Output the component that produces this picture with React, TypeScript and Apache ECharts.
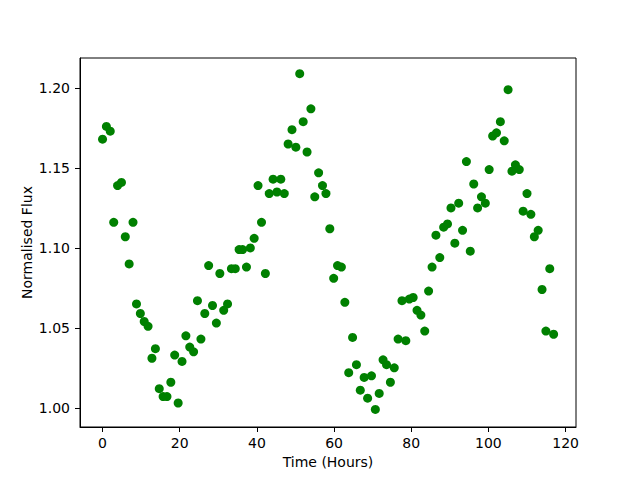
import React, { useEffect, useRef } from "react";
import * as echarts from "echarts";

const timeHours = [
  0.0, 1.0, 2.0, 2.9, 3.9, 4.9, 5.9, 6.9, 7.9, 8.8,
  9.8, 10.8, 11.8, 12.8, 13.7, 14.7, 15.7, 16.7, 17.7, 18.7,
  19.6, 20.6, 21.6, 22.6, 23.6, 24.6, 25.5, 26.5, 27.5, 28.5,
  29.5, 30.4, 31.4, 32.4, 33.4, 34.4, 35.4, 36.3, 37.3, 38.3,
  39.3, 40.3, 41.2, 42.2, 43.2, 44.2, 45.2, 46.2, 47.1, 48.1,
  49.1, 50.1, 51.1, 52.0, 53.0, 54.0, 55.0, 56.0, 57.0, 57.9,
  58.9, 59.9, 60.9, 61.9, 62.8, 63.8, 64.8, 65.8, 66.8, 67.8,
  68.7, 69.7, 70.7, 71.7, 72.7, 73.6, 74.6, 75.6, 76.6, 77.6,
  78.6, 79.5, 80.5, 81.5, 82.5, 83.5, 84.5, 85.4, 86.4, 87.4,
  88.4, 89.4, 90.3, 91.3, 92.3, 93.3, 94.3, 95.3, 96.2, 97.2,
  98.2, 99.2, 100.2, 101.1, 102.1, 103.1, 104.1, 105.1, 106.1, 107.0,
  108.0, 109.0, 110.0, 111.0, 111.9, 112.9, 113.9, 114.9, 115.9, 116.9,
];

const normalisedFlux = [
  1.168, 1.176, 1.173, 1.116, 1.139, 1.141, 1.107, 1.090, 1.116, 1.065,
  1.059, 1.054, 1.051, 1.031, 1.037, 1.012, 1.007, 1.007, 1.016, 1.033,
  1.003, 1.029, 1.045, 1.038, 1.035, 1.067, 1.043, 1.059, 1.089, 1.064,
  1.053, 1.084, 1.061, 1.065, 1.087, 1.087, 1.099, 1.099, 1.088, 1.100,
  1.106, 1.139, 1.116, 1.084, 1.134, 1.143, 1.135, 1.143, 1.134, 1.165,
  1.174, 1.163, 1.209, 1.179, 1.160, 1.187, 1.132, 1.147, 1.139, 1.134,
  1.112, 1.081, 1.089, 1.088, 1.066, 1.022, 1.044, 1.027, 1.011, 1.019,
  1.006, 1.020, 0.999, 1.009, 1.030, 1.027, 1.016, 1.025, 1.043, 1.067,
  1.042, 1.068, 1.069, 1.061, 1.058, 1.048, 1.073, 1.088, 1.108, 1.094,
  1.113, 1.115, 1.125, 1.103, 1.128, 1.111, 1.154, 1.098, 1.140, 1.125,
  1.132, 1.128, 1.149, 1.170, 1.172, 1.179, 1.167, 1.199, 1.148, 1.152,
  1.149, 1.123, 1.134, 1.121, 1.107, 1.111, 1.074, 1.048, 1.087, 1.046,
];

const xTicks = [0, 20, 40, 60, 80, 100, 120];
const yTicks = [1.0, 1.05, 1.1, 1.15, 1.2];

const FONT = "DejaVu Sans";

export default function App() {
  const ref = useRef<HTMLDivElement>(null);
  useEffect(() => {
    if (!ref.current) return;
    const chart = echarts.init(ref.current, null, { renderer: "svg" });
    const points = timeHours.map((t, i) => [t, normalisedFlux[i]]);
    chart.setOption({
      animation: false,
      backgroundColor: "#ffffff",
      grid: {
        left: 80,
        right: 64,
        top: 58,
        bottom: 53,
        show: true,
        borderColor: "#000000",
        borderWidth: 1,
        backgroundColor: "#ffffff",
      },
      xAxis: {
        type: "value",
        min: -5.84,
        max: 122.7,
        name: "Time (Hours)",
        nameLocation: "middle",
        nameGap: 28,
        nameMoveOverlap: false,
        nameTextStyle: { fontFamily: FONT, fontSize: 14, color: "#000" },
        splitLine: { show: false },
        axisLine: { show: true, onZero: false, lineStyle: { color: "#000", width: 1 } },
        axisTick: {
          show: true,
          inside: false,
          length: 5,
          lineStyle: { color: "#000" },
          customValues: xTicks,
        },
        axisLabel: {
          margin: 9,
          fontFamily: FONT,
          fontSize: 14,
          color: "#000",
          customValues: xTicks,
          formatter: (v: number) => String(v),
        },
      },
      yAxis: {
        type: "value",
        min: 0.988,
        max: 1.2188,
        name: "Normalised Flux",
        nameLocation: "middle",
        nameGap: 46,
        nameMoveOverlap: false,
        nameRotate: 90,
        nameTextStyle: { fontFamily: FONT, fontSize: 14, color: "#000" },
        splitLine: { show: false },
        axisLine: { show: true, onZero: false, lineStyle: { color: "#000", width: 1 } },
        axisTick: {
          show: true,
          inside: false,
          length: 5,
          lineStyle: { color: "#000" },
          customValues: yTicks,
        },
        axisLabel: {
          margin: 10,
          fontFamily: FONT,
          fontSize: 14,
          color: "#000",
          customValues: yTicks,
          formatter: (v: number) => v.toFixed(2),
        },
      },
      series: [
        {
          type: "scatter",
          data: points,
          symbol: "circle",
          symbolSize: 9,
          itemStyle: { color: "#008000", opacity: 1 },
        },
      ],
    });
    return () => chart.dispose();
  }, []);
  return <div ref={ref} style={{ width: 640, height: 480, position: "absolute", left: 0, top: 0 }} />;
}
